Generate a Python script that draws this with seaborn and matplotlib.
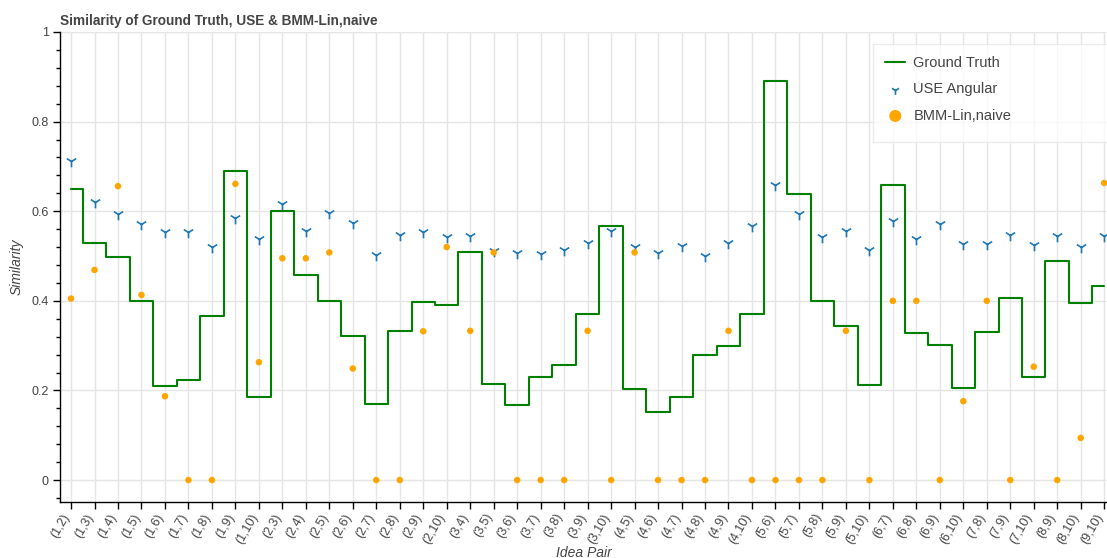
import numpy as np
import pandas as pd
import matplotlib
matplotlib.use("Agg")
import matplotlib.pyplot as plt
import matplotlib.transforms as mtrans
from matplotlib.patches import Rectangle
from matplotlib.ticker import MultipleLocator, FixedLocator
import seaborn as sns

pairs = ["(1,2)", "(1,3)", "(1,4)", "(1,5)", "(1,6)", "(1,7)", "(1,8)", "(1,9)", "(1,10)",
         "(2,3)", "(2,4)", "(2,5)", "(2,6)", "(2,7)", "(2,8)", "(2,9)", "(2,10)",
         "(3,4)", "(3,5)", "(3,6)", "(3,7)", "(3,8)", "(3,9)", "(3,10)",
         "(4,5)", "(4,6)", "(4,7)", "(4,8)", "(4,9)", "(4,10)",
         "(5,6)", "(5,7)", "(5,8)", "(5,9)", "(5,10)",
         "(6,7)", "(6,8)", "(6,9)", "(6,10)",
         "(7,8)", "(7,9)", "(7,10)",
         "(8,9)", "(8,10)",
         "(9,10)"]

ground_truth = [0.65, 0.53, 0.497, 0.40, 0.21, 0.223, 0.367, 0.69, 0.186,
                0.60, 0.457, 0.40, 0.321, 0.17, 0.333, 0.397, 0.39,
                0.51, 0.215, 0.168, 0.231, 0.256, 0.37, 0.567,
                0.204, 0.152, 0.185, 0.28, 0.299, 0.371,
                0.89, 0.638, 0.40, 0.344, 0.213,
                0.658, 0.329, 0.302, 0.205,
                0.33, 0.406, 0.231,
                0.489, 0.396,
                0.432]

use_angular = [0.711, 0.621, 0.593, 0.571, 0.554, 0.554, 0.521, 0.584, 0.539,
               0.615, 0.555, 0.597, 0.574, 0.503, 0.548, 0.553, 0.543,
               0.545, 0.511, 0.507, 0.504, 0.513, 0.530, 0.556,
               0.521, 0.506, 0.523, 0.499, 0.528, 0.568,
               0.658, 0.593, 0.543, 0.556, 0.513,
               0.578, 0.538, 0.571, 0.526,
               0.526, 0.548, 0.525,
               0.545, 0.521,
               0.545]

bmm_lin = [0.405, 0.469, 0.656, 0.413, 0.187, 0, 0, 0.661, 0.263,
           0.495, 0.495, 0.508, 0.249, 0, 0, 0.332, 0.52,
           0.333, 0.508, 0, 0, 0, 0.333, 0,
           0.508, 0, 0, 0, 0.333, 0,
           0, 0, 0, 0.333, 0,
           0.40, 0.40, 0, 0.176,
           0.40, 0, 0.253,
           0, 0.094,
           0.663]

df = pd.DataFrame({"pair": pairs, "gt": ground_truth, "use": use_angular, "bmm": bmm_lin})

sns.set_theme(style="whitegrid")
plt.rcParams["font.family"] = ["Liberation Sans", "DejaVu Sans"]

txt = "#444444"
fig = plt.figure(figsize=(11.07, 5.58), dpi=100)
ax = fig.add_axes([60 / 1107, 1 - 502 / 558, 1 - 60 / 1107, 470 / 558])

sns.lineplot(data=df, x="pair", y="gt", ax=ax, sort=False, drawstyle="steps-mid",
             color="green", linewidth=1.5, label="Ground Truth")
sns.scatterplot(data=df, x="pair", y="use", ax=ax, marker="1", s=70,
                color="#1f77b4", linewidth=1.2, label="USE Angular")
sns.scatterplot(data=df, x="pair", y="bmm", ax=ax, marker="o", s=22,
                color="orange", edgecolor="none", label="BMM-Lin,naive")

ax.set_xlim(-0.47, 44.12)
ax.set_ylim(-0.049, 1.0)

ax.yaxis.set_major_locator(FixedLocator([0, 0.2, 0.4, 0.6, 0.8, 1.0]))
ax.set_yticklabels(["0", "0.2", "0.4", "0.6", "0.8", "1"])
ax.yaxis.set_minor_locator(MultipleLocator(0.04))
ax.set_xticks(range(len(pairs)))

ax.grid(True, which="major", color="#e5e5e5", linewidth=1)
ax.grid(False, which="minor")
ax.set_facecolor("white")
for side in ["top", "right"]:
    ax.spines[side].set_visible(False)
for side in ["left", "bottom"]:
    ax.spines[side].set_color("black")
    ax.spines[side].set_linewidth(1)

ax.tick_params(axis="both", which="major", direction="out", length=5, width=1,
               color="black", labelcolor=txt, labelsize=9, pad=3,
               left=True, bottom=True)
ax.tick_params(axis="x", which="major", pad=4)
ax.tick_params(axis="y", which="minor", direction="out", length=3, width=1,
               color="black", left=True)

# slanted pair labels, nudged left a bit so the last one stays inside
ax.set_xticklabels(pairs, rotation=60, ha="right", va="center", rotation_mode="anchor")
shift = mtrans.ScaledTranslation(-4 / 100, 0, fig.dpi_scale_trans)
for lab in ax.get_xticklabels():
    lab.set_transform(lab.get_transform() + shift)

ax.set_xlabel("Idea Pair", fontsize=10, style="italic", color=txt, labelpad=0)
ax.set_ylabel("Similarity", fontsize=10, style="italic", color=txt, labelpad=6)
ax.set_title("Similarity of Ground Truth, USE & BMM-Lin,naive", loc="left",
             fontsize=9.8, fontweight="bold", color=txt, pad=5)

# legend box, runs off the right edge like the original
box = Rectangle((0.7765, 0.766), 0.3, 0.2085, transform=ax.transAxes,
                facecolor="white", alpha=0.75, edgecolor="#e5e5e5",
                linewidth=1, zorder=4)
ax.add_patch(box)
leg = ax.legend(loc="upper left", bbox_to_anchor=(0.788, 0.949), frameon=False,
                fontsize=10.5, handlelength=1.4, handletextpad=0.55,
                labelspacing=0.85, borderpad=0, borderaxespad=0)
leg.set_zorder(5)
leg.legend_handles[1].set_sizes([40])
leg.legend_handles[2].set_sizes([75])
for t in leg.get_texts():
    t.set_color(txt)

fig.savefig("out.png", dpi=100)
